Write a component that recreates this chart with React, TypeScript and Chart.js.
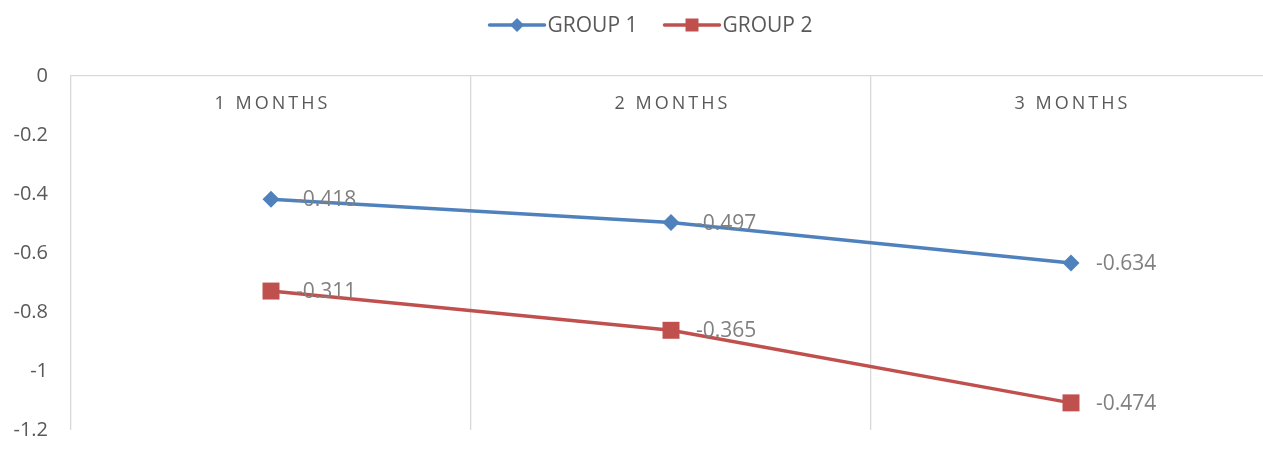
import React, { useEffect, useRef } from "react";
import { Chart, registerables } from "chart.js";

Chart.register(...registerables);

const categories = ["1 MONTHS", "2 MONTHS", "3 MONTHS"];
const group1 = [-0.418, -0.497, -0.634];
const group2 = [-0.311, -0.365, -0.474];
const seriesNames = ["GROUP 1", "GROUP 2"];
const colors = ["#4f81bd", "#c0504d"];
const yMin = -1.2;
const yMax = 0;
const yStep = 0.2;

const FONT = "'Open Sans', 'Noto Sans', sans-serif";

const customPlugin = {
  id: "custom",
  afterDatasetsDraw(chart: any) {
    const ctx = chart.ctx;
    const xScale = chart.scales.x;
    const area = chart.chartArea;
    ctx.save();
    ctx.font = `18px ${FONT}`;
    ctx.fillStyle = "#595959";
    ctx.textAlign = "center";
    ctx.textBaseline = "middle";
    try { (ctx as any).letterSpacing = "3px"; } catch (e) {}
    categories.forEach((c, i) => {
      const x = xScale.getPixelForValue(i);
      ctx.fillText(c, x + 1.5, area.top + 28);
    });
    try { (ctx as any).letterSpacing = "0px"; } catch (e) {}

    ctx.font = `21px ${FONT}`;
    ctx.fillStyle = "#808080";
    ctx.textAlign = "left";
    ctx.textBaseline = "middle";
    chart.data.datasets.forEach((ds: any, di: number) => {
      const meta = chart.getDatasetMeta(di);
      meta.data.forEach((pt: any, i: number) => {
        ctx.fillText(String(ds.data[i]), pt.x + 25, pt.y + 1);
      });
    });

    ctx.font = `21px ${FONT}`;
    const lineLen = 55;
    const gap = 3;
    const itemGap = 27;
    const widths = seriesNames.map((n) => ctx.measureText(n).width);
    const total = widths.reduce((a, w) => a + lineLen + gap + w, 0) + itemGap * (seriesNames.length - 1);
    let x = chart.width / 2 - total / 2;
    const y = 25;
    seriesNames.forEach((n, i) => {
      ctx.strokeStyle = colors[i];
      ctx.fillStyle = colors[i];
      ctx.lineWidth = 3.5;
      ctx.lineCap = "round";
      ctx.beginPath();
      ctx.moveTo(x, y);
      ctx.lineTo(x + lineLen, y);
      ctx.stroke();
      const cx = x + lineLen / 2;
      ctx.beginPath();
      if (i === 0) {
        const r = 7;
        ctx.moveTo(cx, y - r);
        ctx.lineTo(cx + r, y);
        ctx.lineTo(cx, y + r);
        ctx.lineTo(cx - r, y);
        ctx.closePath();
      } else {
        const s = 6.5;
        ctx.rect(cx - s, y - s, 2 * s, 2 * s);
      }
      ctx.fill();
      ctx.fillStyle = "#595959";
      ctx.textAlign = "left";
      ctx.fillText(n, x + lineLen + gap, y + 1);
      x += lineLen + gap + widths[i] + itemGap;
    });
    ctx.restore();
  },
};

export default function App() {
  const ref = useRef<HTMLCanvasElement | null>(null);
  useEffect(() => {
    if (!ref.current) return;
    const chart = new Chart(ref.current, {
      type: "line",
      data: {
        labels: categories,
        datasets: [
          {
            label: seriesNames[0],
            data: group1,
            borderColor: colors[0],
            backgroundColor: colors[0],
            borderWidth: 3.5,
            pointStyle: "rectRot",
            pointRadius: 8.5,
            pointBorderWidth: 0,
            pointBackgroundColor: colors[0],
            tension: 0,
          },
          {
            label: seriesNames[1],
            data: group2,
            borderColor: colors[1],
            backgroundColor: colors[1],
            borderWidth: 3.5,
            pointStyle: "rect",
            pointRadius: 12,
            pointBorderWidth: 0,
            pointBackgroundColor: colors[1],
            tension: 0,
          },
        ],
      },
      options: {
        animation: false,
        responsive: true,
        maintainAspectRatio: false,
        layout: { padding: { top: 76, right: 31, bottom: 21, left: 0 } },
        plugins: {
          legend: { display: false },
          tooltip: { enabled: false },
        },
        scales: {
          x: {
            position: "top",
            offset: true,
            ticks: { display: false },
            grid: { offset: true, color: "#d9d9d9", lineWidth: 1.3, drawTicks: false },
            border: { display: true, color: "#d9d9d9", width: 1.3 },
            afterFit: (s: any) => { s.height = 0; s.paddingLeft = 0; s.paddingRight = 0; },
          },
          y: {
            stacked: true,
            min: yMin,
            max: yMax,
            ticks: {
              stepSize: yStep,
              color: "#595959",
              font: { family: FONT, size: 20 },
              padding: 23,
              callback: (v: any) => String(Number(Number(v).toFixed(1))),
            },
            grid: { display: false, drawTicks: false },
            border: { display: false },
            afterFit: (s: any) => { s.width = 71; s.paddingTop = 0; s.paddingBottom = 0; },
          },
        },
      },
      plugins: [customPlugin],
    });
    return () => chart.destroy();
  }, []);
  return (
    <div style={{ position: "absolute", left: 0, top: 0, width: 1263, height: 451, overflow: "hidden", background: "#fff" }}>
      <div style={{ position: "relative", width: 1302, height: 451 }}>
        <canvas ref={ref} />
      </div>
    </div>
  );
}
